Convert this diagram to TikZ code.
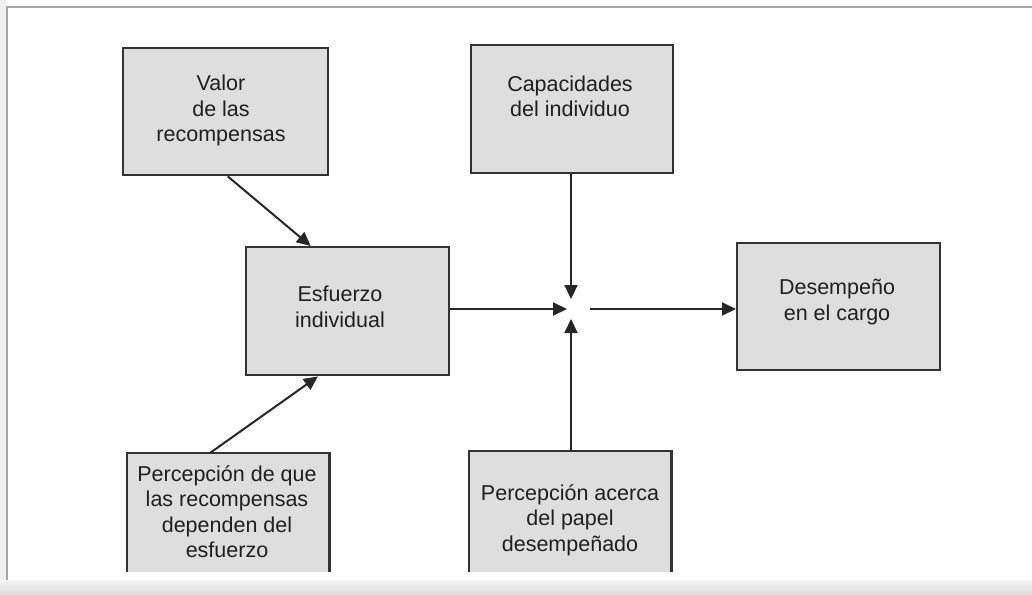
\documentclass[tikz,border=0pt]{standalone}
\usepackage{fontspec}
\setmainfont{Liberation Sans}
\usetikzlibrary{arrows.meta,calc}

\begin{document}
\begin{tikzpicture}[x=1pt,y=-1pt,
  panel/.style={rectangle, fill=black!13, draw=black!80, line width=2.4pt, inner sep=0pt, anchor=north west},
  openpanel/.style={rectangle, fill=black!13, draw=none, inner sep=0pt, anchor=north west},
  panelrim/.style={draw=black!80, line width=2.4pt},
  boxtext/.style={font=\fontsize{21.5}{25.5}\selectfont, text=black!88, align=center, inner sep=0pt},
  link/.style={draw=black!85, line width=2pt, -{Triangle[length=14pt,width=13pt]}},
]
% page and scan edges
\useasboundingbox (0,0) rectangle (1032,594);
\fill[black!6] (0,0) rectangle (7,594);
\shade[top color=black!4, bottom color=black!14] (0,580) rectangle (1032,594);
\draw[black!35, line width=1.2pt] (7,580) -- (7,7) -- (1032,7);

% boxes
\node[panel, minimum width=205pt, minimum height=127pt] (valor) at (122,47) {};
\node[panel, minimum width=202pt, minimum height=128pt] (capac) at (470,44) {};
\node[panel, minimum width=203pt, minimum height=128pt] (esf) at (245,246) {};
\node[panel, minimum width=203pt, minimum height=127pt] (desem) at (736,242) {};
\node[openpanel, minimum width=202pt, minimum height=119pt] (depend) at (127,453) {};
\node[openpanel, minimum width=202pt, minimum height=121pt] (papel) at (469,451) {};
\draw[panelrim] (depend.south west) -- (depend.north west) -- (depend.north east) -- (depend.south east);
\draw[panelrim] (papel.south west) -- (papel.north west) -- (papel.north east) -- (papel.south east);

% texts
\node[boxtext] (valor-t) at (221,110.5) {Valor\\de las\\recompensas};
\node[boxtext] (capac-t) at (570,96.5) {Capacidades\\del individuo};
\node[boxtext] (esf-t) at (340,307) {Esfuerzo\\individual};
\node[boxtext] (desem-t) at (837,302) {Desempeño\\en el cargo};
\node[boxtext] (depend-t) at (227,511.5) {Percepción de que\\las recompensas\\dependen del\\esfuerzo};
\node[boxtext] (papel-t) at (570,520) {Percepción acerca\\del papel\\desempeñado};

% meeting point
\coordinate (hubW) at (567,309);
\coordinate (hubN) at (571,299);
\coordinate (hubS) at (571,319);
\coordinate (hubE) at (590,309);

% connectors
\draw[link] (esf.east |- hubW) -- (hubW);
\draw[link] (capac.south -| hubN) -- (hubN);
\draw[link] (papel.north -| hubS) -- (hubS);
\draw[link] (hubE) -- (desem.west |- hubE);
\draw[link] ($(valor.south west)!0.51!(valor.south east)$) -- ($(esf.north west)!0.32!(esf.north east)$);
\draw[link] ($(depend.north west)!0.41!(depend.north east)$) -- ($(esf.south west)!0.355!(esf.south east)$);
\end{tikzpicture}
\end{document}
